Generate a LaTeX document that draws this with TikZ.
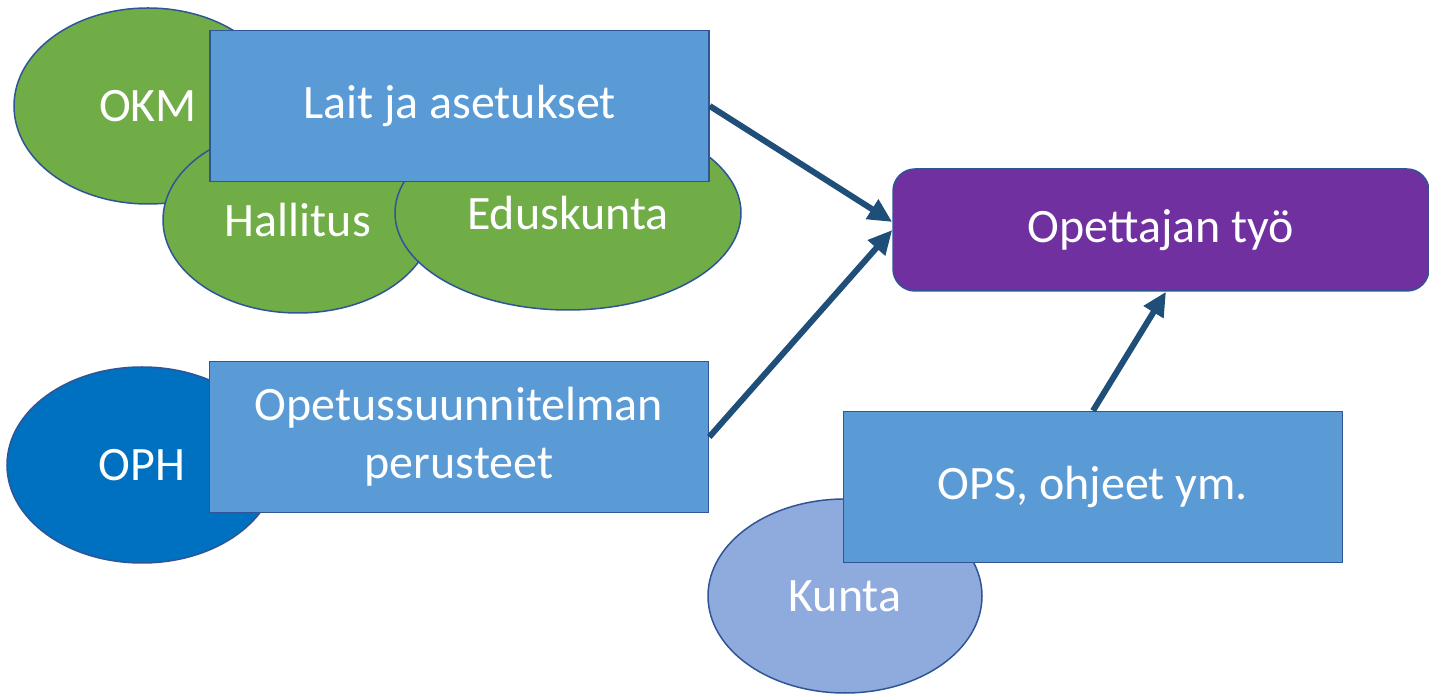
\documentclass[tikz,border=0pt]{standalone}
\usepackage{fontspec}
\setmainfont{Carlito}
\usetikzlibrary{arrows.meta,shapes.geometric}

\definecolor{okgreen}{HTML}{70AD47}
\definecolor{edge}{HTML}{2F5597}
\definecolor{boxblue}{HTML}{5B9BD5}
\definecolor{ophblue}{HTML}{0070C0}
\definecolor{kuntablue}{HTML}{8FAADC}
\definecolor{workpurple}{HTML}{7030A0}
\definecolor{arrowblue}{HTML}{1F4E79}

\begin{document}
\begin{tikzpicture}[%
        x = 0.5pt,
        y = -0.5pt,
        every node/.style = {text = white, font = \fontsize{24}{29}\selectfont},
        actor/.style = {ellipse, draw = edge, line width = 0.75pt, inner sep = 0pt},
        docbox/.style = {rectangle, draw = edge, line width = 0.75pt, fill = boxblue,
            minimum width = 249.5pt, minimum height = 75.5pt, align = center},
        link/.style = {draw = arrowblue, line width = 3pt,
            -{Triangle[length = 12pt, width = 11pt]}}
    ]

        % Page size.
        \useasboundingbox (0, 0) rectangle (1429, 694);

        % Laws and the bodies behind them.
        \node[actor, fill = okgreen, minimum width = 134pt, minimum height = 98pt] (okm) at (148, 106) {OKM};
        \node[actor, fill = okgreen, minimum width = 135pt, minimum height = 93pt] (hallitus) at (298, 220) {Hallitus};
        \node[actor, fill = okgreen, minimum width = 173pt, minimum height = 97pt] (eduskunta) at (568, 213) {Eduskunta};
        \node[docbox] (lait) at (459.5, 106) {Lait ja asetukset};

        % National core curriculum.
        \node[actor, fill = ophblue, minimum width = 135pt, minimum height = 98pt] (oph) at (142, 465) {OPH};
        \node[docbox] (perusteet) at (459, 437) {Opetussuunnitelman\\perusteet};

        % Local level.
        \node[actor, fill = kuntablue, minimum width = 137pt, minimum height = 97pt] (kunta) at (845, 596) {Kunta};
        \node[docbox] (ops) at (1093, 487) {OPS, ohjeet ym.};

        % The teacher.
        \node[rectangle, rounded corners = 11pt, draw = edge, line width = 0.75pt, fill = workpurple,
            minimum width = 268pt, minimum height = 61pt] (tyo) at (1161, 230) {Opettajan työ};

        % Arrows.
        \draw[link] (lait.east) to ([yshift = 4pt]tyo.west);
        \draw[link] (perusteet.east) to (tyo.west);
        \draw[link] (ops.north) to ([xshift = 2.5pt]tyo.south);
    \end{tikzpicture}
\end{document}
